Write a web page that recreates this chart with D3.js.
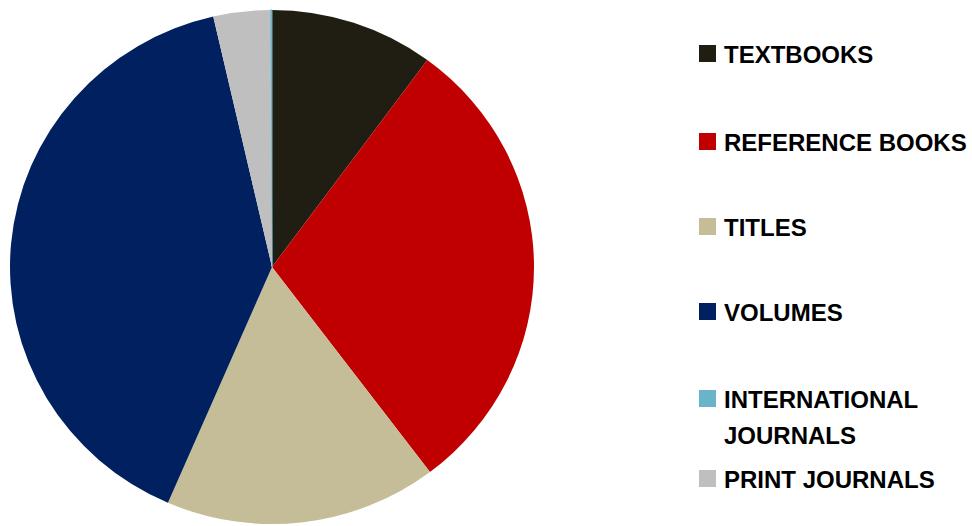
<!DOCTYPE html>
<html><head><meta charset="utf-8">
<script src="https://cdn.jsdelivr.net/npm/d3@7"></script>
<style>html,body{margin:0;padding:0;background:#fff;}svg{display:block;}</style>
</head><body>
<svg id="chart" width="972" height="526"></svg>
<script>
// Legend order
const categories = ["TEXTBOOKS", "REFERENCE BOOKS", "TITLES", "VOLUMES", "INTERNATIONAL JOURNALS", "PRINT JOURNALS"];
const values = [10.1, 29.6, 16.8, 39.9, 0.1, 3.5];
const colors = ["#201d12", "#c00000", "#c4bd97", "#002060", "#6ab4c9", "#bfbfbf"];
// clockwise drawing order around the pie
const drawOrder = ["TEXTBOOKS", "REFERENCE BOOKS", "TITLES", "VOLUMES", "PRINT JOURNALS", "INTERNATIONAL JOURNALS"];
const legendLines = [["TEXTBOOKS"], ["REFERENCE BOOKS"], ["TITLES"], ["VOLUMES"], ["INTERNATIONAL", "JOURNALS"], ["PRINT JOURNALS"]];

const data = categories.map((c, i) => ({cat: c, value: values[i], color: colors[i]}));
const svg = d3.select("#chart");

const cx = 272, cy = 267, rx = 262, ry = 257;
const pie = d3.pie().value(d => d.value)
  .sort((a, b) => drawOrder.indexOf(a.cat) - drawOrder.indexOf(b.cat));
const arc = d3.arc().innerRadius(0).outerRadius(rx);

svg.append("g")
  .attr("transform", `translate(${cx},${cy}) scale(1,${ry / rx})`)
  .selectAll("path")
  .data(pie(data))
  .join("path")
  .attr("d", arc)
  .attr("fill", d => d.data.color)
  .attr("stroke", d => d.data.cat === "INTERNATIONAL JOURNALS" ? d.data.color : "none")
  .attr("stroke-width", 1);

const legendY = d3.scalePoint().domain(categories).range([63, 488]);
const baselines = {"TEXTBOOKS": 63, "REFERENCE BOOKS": 151, "TITLES": 236, "VOLUMES": 321, "INTERNATIONAL JOURNALS": 408, "PRINT JOURNALS": 488};

const lg = svg.append("g").selectAll("g").data(data).join("g");
lg.append("rect")
  .attr("x", 699).attr("y", d => baselines[d.cat] - 18)
  .attr("width", 17).attr("height", 17)
  .attr("fill", d => d.color);
lg.each(function(d, i) {
  const t = d3.select(this).append("text")
    .attr("x", 724).attr("y", baselines[d.cat])
    .attr("font-family", "'Liberation Sans', Arial, sans-serif")
    .attr("font-weight", "bold").attr("font-size", 24).attr("fill", "#000");
  legendLines[i].forEach((line, j) => {
    t.append("tspan").attr("x", 724).attr("dy", j === 0 ? 0 : 36).text(line);
  });
});
</script>
</body></html>
